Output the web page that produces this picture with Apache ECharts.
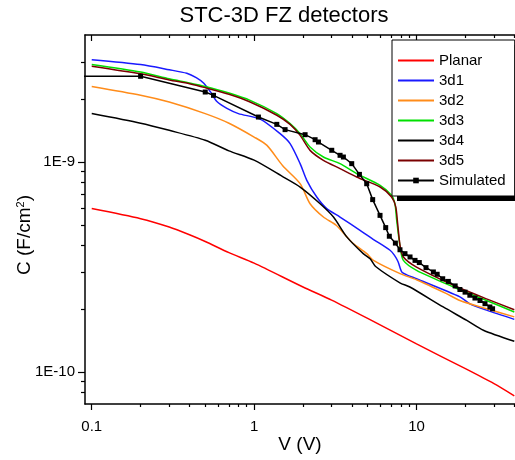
<!DOCTYPE html>
<html>
<head>
<meta charset="utf-8">
<script src="https://cdn.jsdelivr.net/npm/echarts@6/dist/echarts.min.js"></script>
<style>
  html, body { margin: 0; padding: 0; background: #fff; }
  #chart { width: 515px; height: 460px; }
</style>
</head>
<body>
<div id="chart"></div>
<script>
// bias voltage (V) and capacitance (F/cm2)
const planarV = [0.1, 0.2, 0.3, 0.4, 0.5, 0.7, 1, 2, 3, 5, 10, 20, 30, 40];
const planarC = [6.0e-10, 5.37e-10, 4.9e-10, 4.5e-10, 4.18e-10, 3.7e-10, 3.3e-10, 2.54e-10, 2.2e-10, 1.8e-10, 1.36e-10, 1.037e-10, 0.88e-10, 0.77e-10];

const d1V = [0.1, 0.2, 0.3, 0.385, 0.44, 0.49, 0.54, 0.59, 0.68, 0.8, 1.09, 1.445, 1.665, 1.92, 2.11, 2.43, 2.8, 3.38, 4.49, 5.5, 6.87, 7.3, 7.7, 8.1, 8.7, 10, 18.5, 21.3, 27, 40];
const d1C = [3.07e-9, 2.91e-9, 2.75e-9, 2.645e-9, 2.52e-9, 2.37e-9, 2.15e-9, 1.94e-9, 1.80e-9, 1.70e-9, 1.60e-9, 1.364e-9, 1.223e-9, 0.982e-9, 0.818e-9, 0.681e-9, 0.60e-9, 0.547e-9, 0.473e-9, 0.425e-9, 0.38e-9, 0.36e-9, 0.335e-9, 0.30e-9, 0.29e-9, 0.278e-9, 0.228e-9, 0.211e-9, 0.197e-9, 0.178e-9];

const d2V = [0.1, 0.2, 0.3, 0.5, 0.7, 1, 1.2, 1.5, 1.92, 2.21, 2.67, 3.2, 3.72, 4.08, 4.94, 5.43, 7.92, 10, 15.3, 18.5, 27, 40];
const d2C = [2.29e-9, 2.08e-9, 1.93e-9, 1.70e-9, 1.53e-9, 1.315e-9, 1.2e-9, 0.96e-9, 0.789e-9, 0.633e-9, 0.547e-9, 0.50e-9, 0.44e-9, 0.409e-9, 0.366e-9, 0.34e-9, 0.294e-9, 0.275e-9, 0.236e-9, 0.219e-9, 0.2e-9, 0.183e-9];

const d3V = [0.1, 0.2, 0.3, 0.4, 0.5, 0.7, 0.945, 1.38, 1.665, 1.92, 2.21, 2.67, 3.38, 4.28, 5.97, 7.02, 7.36, 7.55, 7.92, 8.3, 10, 16.9, 27, 40];
const d3C = [2.91e-9, 2.68e-9, 2.49e-9, 2.38e-9, 2.29e-9, 2.13e-9, 1.966e-9, 1.70e-9, 1.523e-9, 1.364e-9, 1.179e-9, 1.056e-9, 0.982e-9, 0.88e-9, 0.774e-9, 0.694e-9, 0.633e-9, 0.527e-9, 0.394e-9, 0.34e-9, 0.305e-9, 0.254e-9, 0.219e-9, 0.193e-9];

const d4V = [0.1, 0.2, 0.3, 0.5, 0.7, 1, 1.515, 1.92, 2.55, 3.08, 3.72, 4.7, 5.2, 5.6, 7.9, 9.1, 14.6, 20.4, 25.8, 40];
const d4C = [1.70e-9, 1.53e-9, 1.415e-9, 1.27e-9, 1.13e-9, 1.02e-9, 0.848e-9, 0.76e-9, 0.633e-9, 0.547e-9, 0.44e-9, 0.366e-9, 0.345e-9, 0.318e-9, 0.266e-9, 0.254e-9, 0.204e-9, 0.176e-9, 0.158e-9, 0.14e-9];

const d5V = [0.1, 0.2, 0.3, 0.4, 0.5, 0.7, 0.945, 1.38, 1.665, 1.92, 2.21, 2.67, 3.38, 4.28, 5.97, 7.02, 7.45, 7.65, 7.92, 8.3, 10, 16.9, 27, 40];
const d5C = [2.86e-9, 2.63e-9, 2.46e-9, 2.36e-9, 2.26e-9, 2.10e-9, 1.93e-9, 1.67e-9, 1.51e-9, 1.339e-9, 1.136e-9, 1.018e-9, 0.93e-9, 0.848e-9, 0.76e-9, 0.681e-9, 0.611e-9, 0.51e-9, 0.40e-9, 0.353e-9, 0.316e-9, 0.259e-9, 0.223e-9, 0.198e-9];

const simV = [0.05, 0.2, 0.5, 0.562, 1.063, 1.379, 1.551, 2.06, 2.374, 2.489, 3.006, 3.382, 3.545, 3.99, 4.45, 4.935, 5.37, 5.96, 6.46, 6.8, 7.41, 7.91, 8.49, 9.12, 9.79, 10.4, 11.44, 12.7, 13.4, 14.5, 15.7, 17.3, 18.5, 19.9, 21.3, 22.9, 24.6, 26.4, 28.3, 29.4];
const simC = [2.56e-9, 2.56e-9, 2.154e-9, 2.077e-9, 1.637e-9, 1.511e-9, 1.426e-9, 1.349e-9, 1.277e-9, 1.245e-9, 1.137e-9, 1.076e-9, 1.056e-9, 0.982e-9, 0.873e-9, 0.788e-9, 0.662e-9, 0.557e-9, 0.487e-9, 0.443e-9, 0.411e-9, 0.382e-9, 0.366e-9, 0.353e-9, 0.340e-9, 0.332e-9, 0.314e-9, 0.2995e-9, 0.292e-9, 0.278e-9, 0.270e-9, 0.257e-9, 0.247e-9, 0.240e-9, 0.232e-9, 0.225e-9, 0.219e-9, 0.2115e-9, 0.204e-9, 0.200e-9];

const xMajor = [0.1, 1, 10];
const xMinor = [0.2, 0.3, 0.4, 0.5, 0.6, 0.7, 0.8, 0.9, 2, 3, 4, 5, 6, 7, 8, 9, 20, 30, 40];
const yMajor = [1e-10, 1e-9];
const yMinor = [8e-11, 9e-11, 2e-10, 3e-10, 4e-10, 5e-10, 6e-10, 7e-10, 8e-10, 9e-10, 2e-9, 3e-9];

const X_MIN = 0.0909, X_MAX = 40.4;
const Y_MIN = 7.04e-11, Y_MAX = 4.025e-9;

const FONT = 'Liberation Sans, Arial, sans-serif';

const zip = (xs, ys) => xs.map((x, i) => [x, ys[i]]);

const chart = echarts.init(document.getElementById('chart'));

const axisLine = { show: true, onZero: false, lineStyle: { color: '#000', width: 1.5 } };
const tickLine = { color: '#000', width: 1.2 };

function xAxisOf(position, values, len, withLine, withLabel) {
  return {
    type: 'log', logBase: 10, position: position, min: X_MIN, max: X_MAX,
    axisLine: withLine ? axisLine : { show: false },
    axisTick: { show: true, customValues: values, inside: position === 'top', length: len, lineStyle: tickLine },
    axisLabel: withLabel ? {
      show: true, customValues: xMajor, margin: 15, color: '#000', fontSize: 15, fontFamily: FONT,
      formatter: v => String(+Number(v).toPrecision(3))
    } : { show: false },
    splitLine: { show: false },
    minorTick: { show: false }
  };
}

function yAxisOf(values, len, withLine, withLabel) {
  return {
    type: 'log', logBase: 10, position: 'left', min: Y_MIN, max: Y_MAX,
    axisLine: withLine ? axisLine : { show: false },
    axisTick: { show: true, customValues: values, inside: false, length: len, lineStyle: tickLine },
    axisLabel: withLabel ? {
      show: true, customValues: yMajor, margin: 10, color: '#000', fontSize: 15, fontFamily: FONT,
      formatter: v => '1E' + Math.round(Math.log10(v))
    } : { show: false },
    splitLine: { show: false },
    minorTick: { show: false }
  };
}

const xMain = xAxisOf('bottom', xMajor, 6, true, true);
xMain.name = 'V (V)';
xMain.nameLocation = 'middle';
xMain.nameGap = 31;
xMain.nameMoveOverlap = false;
xMain.nameTextStyle = { fontSize: 19, color: '#000', fontFamily: FONT };

const yMain = yAxisOf(yMajor, 7, true, true);
yMain.name = 'C (F/cm{sup|2})';
yMain.nameLocation = 'middle';
yMain.nameGap = 51;
yMain.nameMoveOverlap = false;
yMain.nameTextStyle = {
  fontSize: 19, color: '#000', fontFamily: FONT,
  padding: [0, 31, 0, 0],
  rich: { sup: { fontSize: 11, verticalAlign: 'top', color: '#000', fontFamily: FONT } }
};

function lineSeries(name, data, color) {
  return {
    name: name, type: 'line', data: data, xAxisIndex: 0, yAxisIndex: 0,
    symbol: 'none', smooth: 0.25,
    lineStyle: { color: color, width: 1.5 }, itemStyle: { color: color }
  };
}

const legendNames = ['Planar', '3d1', '3d2', '3d3', '3d4', '3d5', 'Simulated'];

chart.setOption({
  animation: false,
  backgroundColor: '#fff',
  title: {
    text: 'STC-3D FZ detectors', left: 279, top: 0, textAlign: 'center',
    textStyle: { fontSize: 22, fontWeight: 'normal', color: '#000', fontFamily: FONT }
  },
  grid: { left: 85, top: 35, width: 430, height: 369, containLabel: false, outerBoundsMode: 'none' },
  // drop shadow behind the legend box
  graphic: [{
    type: 'rect', z: 3, silent: true,
    shape: { x: 397, y: 45, width: 130, height: 156 },
    style: { fill: '#000' }
  }],
  legend: {
    orient: 'vertical', left: 392, top: 40, selectedMode: false, z: 4,
    itemWidth: 36, itemHeight: 7, itemGap: 5,
    padding: [13, 9, 8, 5],
    backgroundColor: '#fff', borderColor: '#000', borderWidth: 1,
    textStyle: { fontSize: 15, color: '#000', fontFamily: FONT },
    data: legendNames.map(n => n === 'Simulated' ? { name: n } : { name: n, itemStyle: { opacity: 0 } })
  },
  xAxis: [
    xMain,
    xAxisOf('bottom', xMinor, 3, false, false),
    xAxisOf('top', xMajor, 6, true, false),
    xAxisOf('top', xMinor, 3, false, false)
  ],
  yAxis: [
    yMain,
    yAxisOf(yMinor, 4, false, false)
  ],
  series: [
    lineSeries('Planar', zip(planarV, planarC), '#ff0000'),
    lineSeries('3d1', zip(d1V, d1C), '#1a1aff'),
    lineSeries('3d2', zip(d2V, d2C), '#ff8c1a'),
    lineSeries('3d3', zip(d3V, d3C), '#00e000'),
    lineSeries('3d4', zip(d4V, d4C), '#000000'),
    lineSeries('3d5', zip(d5V, d5C), '#7a0000'),
    {
      name: 'Simulated', type: 'line', data: zip(simV, simC), xAxisIndex: 0, yAxisIndex: 0,
      symbol: 'rect', symbolSize: 5, showSymbol: true,
      lineStyle: { color: '#000', width: 1.5 }, itemStyle: { color: '#000' }
    }
  ]
});
</script>
</body>
</html>
